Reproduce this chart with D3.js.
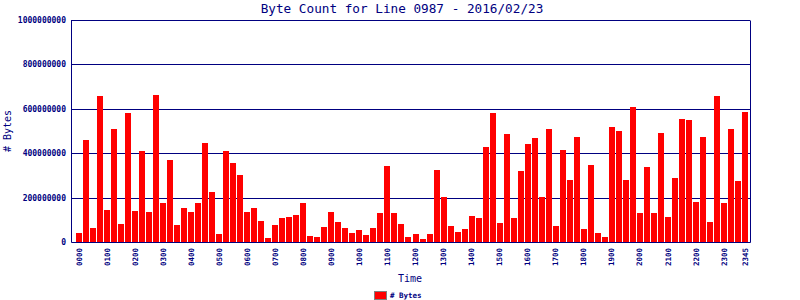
<!DOCTYPE html>
<html>
<head>
<meta charset="utf-8">
<script src="https://cdn.jsdelivr.net/npm/d3@7"></script>
<style>
  body { margin: 0; background: #fff; }
  text { font-family: "DejaVu Sans Mono", monospace; fill: #000080; }
</style>
</head>
<body>
<script>
// bytes per 15 minute slot, 0000 .. 2345
var times = d3.range(96).map(function(i) {
  var h = Math.floor(i / 4), m = (i % 4) * 15;
  return (h < 10 ? "0" : "") + h + (m < 10 ? "0" : "") + m;
});
var bytes = [
   40e6, 460e6,  63e6, 658e6, 144e6, 509e6,  81e6, 581e6,
  140e6, 410e6, 135e6, 662e6, 176e6, 369e6,  77e6, 153e6,
  135e6, 176e6, 446e6, 225e6,  36e6, 410e6, 356e6, 302e6,
  135e6, 153e6,  95e6,  18e6,  77e6, 108e6, 113e6, 122e6,
  176e6,  27e6,  23e6,  68e6, 135e6,  90e6,  63e6,  41e6,
   54e6,  32e6,  63e6, 131e6, 342e6, 131e6,  81e6,  23e6,
   36e6,  14e6,  36e6, 324e6, 203e6,  72e6,  45e6,  59e6,
  117e6, 108e6, 428e6, 581e6,  86e6, 486e6, 108e6, 320e6,
  441e6, 468e6, 203e6, 509e6,  72e6, 414e6, 279e6, 473e6,
   59e6, 347e6,  41e6,  23e6, 518e6, 500e6, 279e6, 608e6,
  131e6, 338e6, 131e6, 491e6, 113e6, 288e6, 554e6, 550e6,
  180e6, 473e6,  90e6, 658e6, 176e6, 509e6, 275e6, 586e6
];
var xTicks = ["0000","0100","0200","0300","0400","0500","0600","0700","0800",
  "0900","1000","1100","1200","1300","1400","1500","1600","1700","1800",
  "1900","2000","2100","2200","2300","2345"];
var yTicks = [0, 200000000, 400000000, 600000000, 800000000, 1000000000];

var width = 800, height = 300;
var plotLeft = 71, plotRight = 750, plotTop = 20, plotBottom = 242;
var navy = "#000080";

var svg = d3.select("body").append("svg")
  .attr("width", width)
  .attr("height", height);

var x = d3.scaleBand()
  .domain(times)
  .range([76, 748])
  .paddingInner(1 / 7)
  .paddingOuter(0);

var y = d3.scaleLinear()
  .domain([0, 1000000000])
  .range([plotBottom, plotTop]);

// grid lines
svg.append("g")
  .selectAll("line")
  .data(yTicks.slice(1))
.enter().append("line")
  .attr("x1", plotLeft)
  .attr("x2", plotRight)
  .attr("y1", function(d) { return Math.round(y(d)) + 0.5; })
  .attr("y2", function(d) { return Math.round(y(d)) + 0.5; })
  .style("stroke", navy);

svg.append("g")
  .selectAll("rect")
  .data(bytes)
.enter().append("rect")
  .style("fill", "#ff0000")
  .attr("shape-rendering", "crispEdges")
  .attr("x", function(d, i) { return x(times[i]); })
  .attr("width", x.bandwidth())
  .attr("y", function(d) { return Math.round(y(d)); })
  .attr("height", function(d) { return plotBottom - Math.round(y(d)); });

// frame
svg.append("path")
  .attr("d", "M" + (plotLeft + 0.5) + "," + (plotTop + 0.5) + "V" + (plotBottom + 0.5) +
    "H" + (plotRight + 0.5) + "V" + (plotTop + 0.5))
  .style("fill", "none")
  .style("stroke", navy);

// y axis
var yAxis = svg.append("g")
  .attr("transform", "translate(" + plotLeft + ",0)")
  .call(d3.axisLeft(y).tickValues(yTicks).tickSize(0).tickPadding(5)
    .tickFormat(d3.format("d")));
yAxis.select(".domain").remove();
yAxis.selectAll("text")
  .style("font-size", "8px")
  .style("font-weight", "bold")
  .style("fill", navy);

// x axis
var xAxis = svg.append("g")
  .attr("transform", "translate(0," + plotBottom + ")")
  .call(d3.axisBottom(x).tickValues(xTicks).tickSize(0));
xAxis.select(".domain").remove();
xAxis.selectAll("text")
  .style("font-size", "7.5px")
  .style("font-weight", "bold")
  .style("fill", navy)
  .attr("text-anchor", "end")
  .attr("transform", "rotate(-90)")
  .attr("x", -6)
  .attr("y", 0)
  .attr("dy", "0.35em");

svg.append("text")
  .attr("x", 402)
  .attr("y", 13)
  .attr("text-anchor", "middle")
  .style("font-size", "12.7px")
  .text("Byte Count for Line 0987 - 2016/02/23");

svg.append("text")
  .attr("x", 410)
  .attr("y", 282)
  .attr("text-anchor", "middle")
  .style("font-size", "10px")
  .text("Time");

svg.append("text")
  .attr("transform", "translate(11," + ((plotTop + plotBottom) / 2) + ") rotate(-90)")
  .attr("text-anchor", "middle")
  .style("font-size", "10px")
  .text("# Bytes");

// legend
svg.append("rect")
  .attr("x", 374.5)
  .attr("y", 291.5)
  .attr("width", 12)
  .attr("height", 8)
  .style("fill", "#ff0000")
  .style("stroke", "#808080");

svg.append("text")
  .attr("x", 390)
  .attr("y", 298)
  .style("font-size", "7.5px")
  .style("font-weight", "bold")
  .text("# Bytes");
</script>
</body>
</html>
